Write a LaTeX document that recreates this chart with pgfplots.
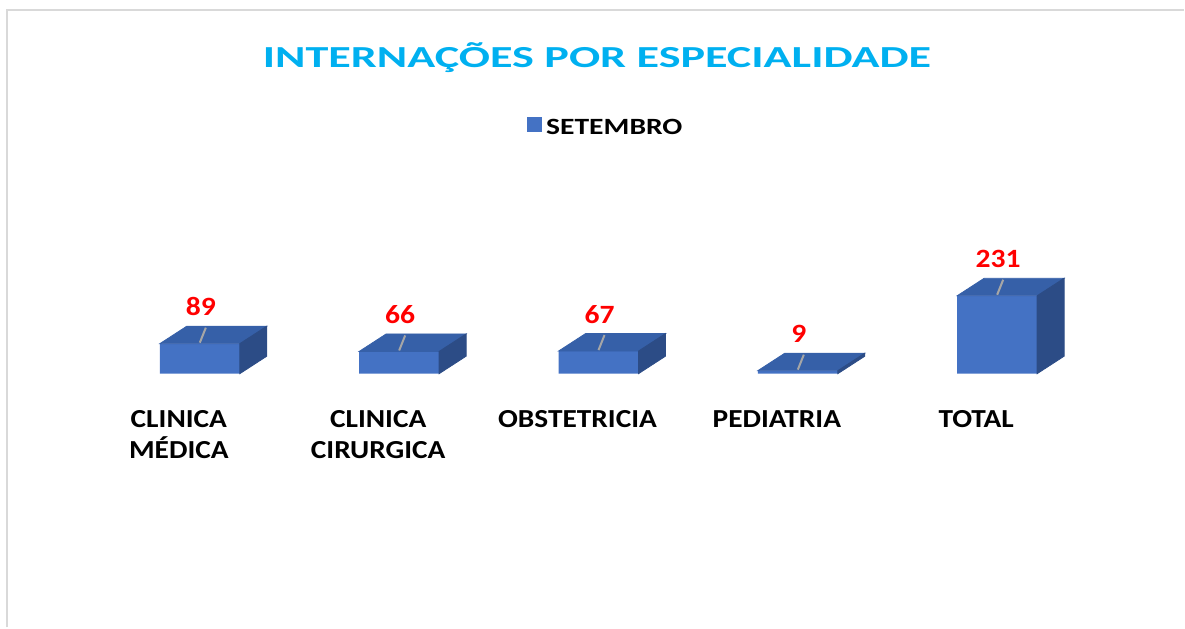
\documentclass[border=0pt]{standalone}
\usepackage{fontspec}
\usepackage{pgfplots}
\usepackage{pgfplotstable}
\pgfplotsset{compat=1.18}
\setmainfont{Carlito}
\newfontfamily\titlefont[FakeStretch=1.51]{Carlito}
\newfontfamily\catfont[FakeStretch=1.13]{Carlito}
\newfontfamily\legfont[FakeStretch=1.27]{Carlito}
\newfontfamily\valfont[FakeStretch=1.12]{Carlito}
\definecolor{barfront}{HTML}{4472C4}
\definecolor{bartop}{HTML}{3660A8}
\definecolor{barside}{HTML}{2C4C86}
\definecolor{titleblue}{HTML}{00B0F0}
\definecolor{framegray}{HTML}{D9D9D9}
\definecolor{leadergray}{HTML}{A6A6A6}

\pgfplotstableread{
x y
0 89
1 66
2 67
3 9
4 231
}\datatable

\begin{document}
\begin{tikzpicture}
\begin{axis}[
  x=99.75pt, y=0.16885pt,
  xmin=-1.00251, xmax=4.93734, ymin=-752.15, ymax=1107.49,
  at={(0,0)}, anchor=south west,
  axis line style={draw=none}, tick style={draw=none},
  xtick=data, ytick=\empty,
  xticklabels={{CLINICA\\MÉDICA},{CLINICA\\CIRURGICA},OBSTETRICIA,PEDIATRIA,TOTAL},
  xticklabel style={align=center, font=\catfont\bfseries\fontsize{13}{15.5}\selectfont, yshift=112pt, xshift=-10.5pt, text=black},
  clip=false,
  title={INTERNAÇÕES POR ESPECIALIDADE},
  title style={at={(0.5042,0.8726)}, anchor=base, font=\titlefont\bfseries\fontsize{15.3}{18}\selectfont, text=titleblue, inner sep=0pt},
  legend style={at={(0.5125,0.796)}, anchor=center, draw=none, fill=none, font=\legfont\bfseries\fontsize{11.65}{14}\selectfont, legend cell align=left},
  legend image code/.code={\fill[barfront] (-2pt,-2.2pt) rectangle (5.5pt,5.3pt);},
  /pgf/number format/assume math mode=true,
]
\draw[framegray, line width=1pt] (axis description cs:0.00549,0) -- (axis description cs:0.00549,0.9841) -- (axis description cs:1,0.9841);

\addplot[ybar, bar width=40pt, fill=barfront, draw=none,
  nodes near coords={\pgfmathprintnumber{\pgfplotspointmeta}},
  every node near coord/.append style={anchor=base, yshift=14pt, xshift=0.5pt, text=red, font=\valfont\bfseries\fontsize{13.2}{15}\selectfont, inner sep=0pt},
] table[x=x,y=y]{\datatable};
\addlegendentry{SETEMBRO}

\addplot[forget plot, scatter, only marks, mark=*, mark size=0.01pt,
  mark options={draw=none, fill=none},
  visualization depends on={\thisrow{y} \as \val},
  scatter/@pre marker code/.code={%
     \pgfmathsetlengthmacro\hh{\val*0.16885pt}%
     \fill[bartop, fill opacity=1] (-20pt,0pt) -- (20pt,0pt) -- (33.5pt,8.75pt) -- (-6.5pt,8.75pt) -- cycle;
     \fill[barside, fill opacity=1] (20pt,0pt) -- (33.5pt,8.75pt) -- (33.5pt,8.75pt-\hh) -- (20pt,-\hh) -- cycle;
     \draw[leadergray, draw opacity=1, line width=1pt] (0pt,0.5pt) -- (3pt,8pt);
     \begin{scope}[opacity=0]
  },
  scatter/@post marker code/.code={\end{scope}},
] table[x=x,y=y]{\datatable};
\end{axis}
\end{tikzpicture}
\end{document}
